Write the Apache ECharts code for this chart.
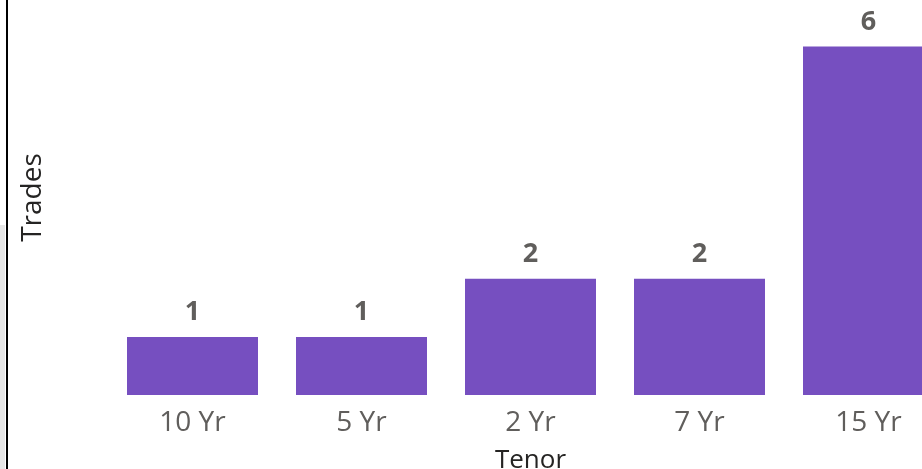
<!DOCTYPE html>
<html>
<head>
<meta charset="utf-8">
<script src="https://cdn.jsdelivr.net/npm/echarts@6/dist/echarts.min.js"></script>
<style>
  html, body { margin: 0; padding: 0; background: #fff; }
  #main { width: 922px; height: 469px; }
</style>
</head>
<body>
<div id="main"></div>
<script>
var tenors = ['10 Yr', '5 Yr', '2 Yr', '7 Yr', '15 Yr'];
var trades = [1, 1, 2, 2, 6];

var font = 'Open Sans';

var option = {
    animation: false,
    textStyle: { fontFamily: font },
    graphic: [
        { type: 'rect', left: 0, top: 225, shape: { width: 5, height: 244 }, style: { fill: '#e6e6e6' } },
        { type: 'rect', left: 6, top: 0, shape: { width: 2, height: 469 }, style: { fill: '#000' } }
    ],
    grid: {
        left: 108,
        top: 0,
        width: 845,
        bottom: 74,
        outerBoundsMode: 'none'
    },
    xAxis: {
        type: 'category',
        data: tenors,
        name: 'Tenor',
        nameLocation: 'middle',
        nameGap: 53,
        nameTextStyle: { fontSize: 26, fontWeight: 500, color: '#252423', fontFamily: font },
        axisLine: { show: false },
        axisTick: { show: false },
        axisLabel: { fontSize: 28, color: '#605e5c', margin: 14, fontFamily: font }
    },
    yAxis: {
        type: 'value',
        min: 0,
        max: 6.8,
        name: 'Trades',
        nameLocation: 'middle',
        nameGap: 61,
        nameTextStyle: { fontSize: 28, fontWeight: 500, color: '#252423', fontFamily: font },
        axisLabel: { show: false },
        axisLine: { show: false },
        axisTick: { show: false },
        splitLine: { show: false }
    },
    series: [
        {
            type: 'bar',
            data: trades,
            barWidth: 131,
            itemStyle: { color: '#764fc0' },
            label: {
                show: true,
                position: 'top',
                distance: 11,
                fontSize: 27,
                fontWeight: 'bold',
                color: '#605e5c',
                fontFamily: font
            }
        }
    ]
};
var myChart = echarts.init(document.getElementById('main'));
myChart.setOption(option);
</script>
</body>
</html>
